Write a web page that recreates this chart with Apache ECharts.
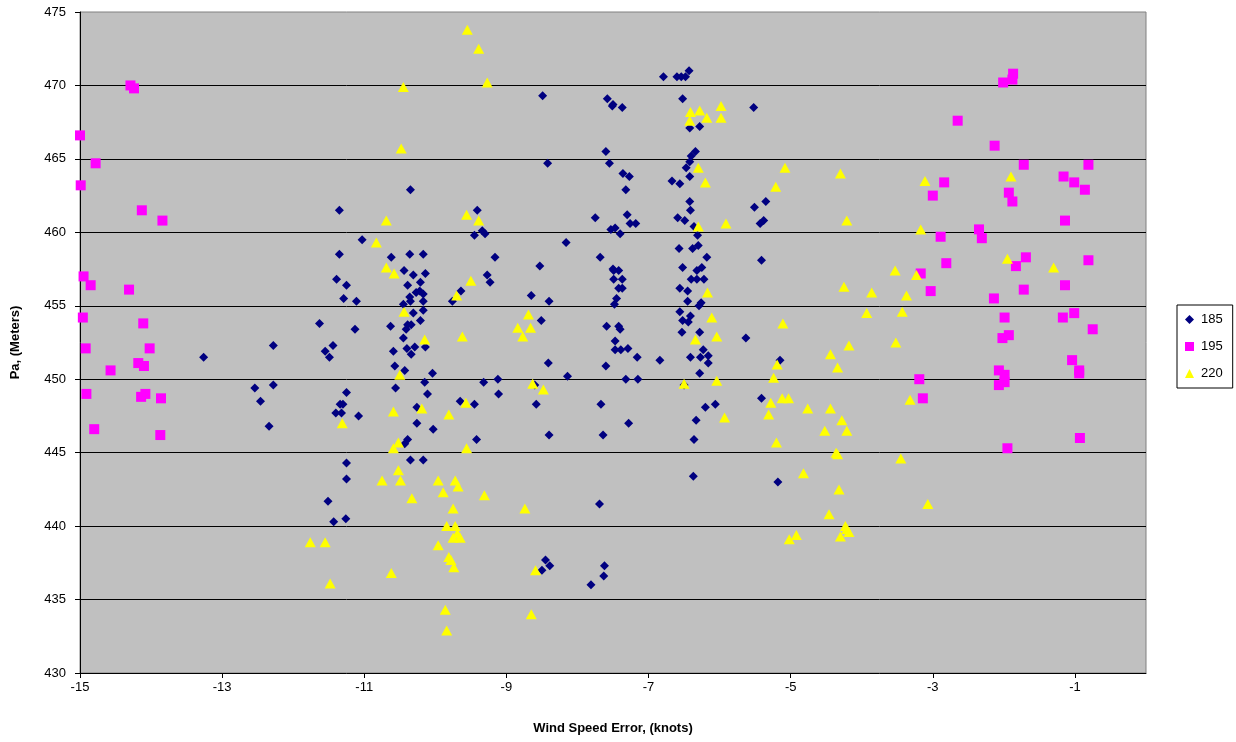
<!DOCTYPE html>
<html>
<head>
<meta charset="utf-8">
<script src="https://cdn.jsdelivr.net/npm/echarts@6/dist/echarts.min.js"></script>
<style>
  html, body { margin: 0; padding: 0; background: #ffffff; }
  #chart { width: 1236px; height: 742px; }
</style>
</head>
<body>
<div id="chart"></div>
<script>
// Series names (legend labels)
const seriesNames = ['185', '195', '220'];

// Axis ranges and tick steps
const xRange = [-15, 0];
const xStep = 2;
const yRange = [430, 475];
const yStep = 5;

// [wind speed error (knots), Pa (meters)]
const pts185 = [
  [-11.35,461.5],[-8.49,469.3],[-7.58,469.1],[-7.51,468.6],[-7.60,465.5],[-8.42,464.7],[-7.55,464.7],
  [-10.35,462.9],[-9.41,461.5],[-7.75,461.0],[-9.34,460.1],[-7.53,460.2],[-9.45,459.8],[-9.30,459.9],
  [-6.79,470.6],[-6.60,470.6],[-6.54,470.6],[-6.48,470.6],[-6.43,471.0],[-6.52,469.1],[-7.50,468.7],
  [-7.37,468.5],[-5.52,468.5],[-6.42,467.1],[-6.28,467.2],[-6.34,465.5],[-6.40,465.2],[-6.42,464.8],
  [-6.47,464.4],[-7.36,464.0],[-7.27,463.8],[-7.32,462.9],[-6.67,463.5],[-6.56,463.3],[-6.42,463.8],
  [-6.42,462.1],[-6.41,461.5],[-7.30,461.2],[-7.26,460.6],[-7.18,460.6],[-6.59,461.0],[-6.49,460.8],
  [-5.51,461.7],[-5.35,462.1],[-5.43,460.6],[-5.38,460.8],[-7.47,460.3],[-6.36,460.4],
  [-7.40,459.9],[-6.31,459.8],[-6.57,458.9],[-6.38,458.9],[-6.30,459.1],[-6.18,458.3],[-5.41,458.1],
  [-6.52,457.6],[-6.25,457.6],[-6.32,457.4],[-7.49,457.4],[-7.42,457.4],[-7.49,456.8],[-7.37,456.8],
  [-6.40,456.8],[-6.22,456.8],[-6.32,456.8],[-6.56,456.2],[-6.45,456.0],[-7.42,456.2],[-7.37,456.2],
  [-7.45,455.5],[-6.45,455.3],[-6.26,455.2],[-6.29,455.0],[-7.48,455.1],[-6.56,454.6],[-6.41,454.3],
  [-6.52,454.0],[-6.44,453.9],[-7.42,453.6],[-7.40,453.4],[-6.53,453.2],[-6.28,453.2],[-5.63,452.8],
  [-7.47,452.6],[-7.47,452.0],[-7.39,452.0],[-7.29,452.1],[-6.23,452.0],[-6.27,451.5],[-6.16,451.6],
  [-6.41,451.5],[-7.16,451.5],[-6.84,451.3],[-6.16,451.1],[-5.15,451.3],[-6.28,450.4],[-7.32,450.0],
  [-7.15,450.0],[-6.50,449.6],[-5.41,448.7],[-6.20,448.1],[-6.06,448.3],[-7.28,447.0],[-6.33,447.2],
  [-6.36,445.9],[-6.37,443.4],[-5.18,443.0],
  [-11.03,459.5],[-8.16,459.3],[-10.62,458.3],[-10.36,458.5],[-10.17,458.5],[-9.16,458.3],[-7.68,458.3],
  [-7.50,457.5],[-8.53,457.7],[-10.44,457.4],[-10.31,457.1],[-10.14,457.2],[-9.27,457.1],[-9.23,456.6],
  [-10.39,456.4],[-10.21,456.6],[-10.22,456.0],[-10.27,455.9],[-10.17,455.8],[-9.64,456.0],[-10.36,455.6],
  [-10.35,455.3],[-10.17,455.3],[-11.11,455.3],[-9.76,455.3],[-8.65,455.7],[-8.40,455.3],[-10.45,455.1],
  [-10.31,454.5],[-10.17,454.7],[-10.21,454.0],[-11.13,453.4],[-10.63,453.6],[-10.39,453.7],[-10.34,453.7],
  [-10.41,453.4],[-8.51,454.0],[-7.59,453.6],[-10.45,452.8],[-10.29,452.2],[-10.40,452.1],[-10.14,452.2],
  [-10.34,451.7],[-10.59,451.9],[-10.57,450.9],[-10.43,450.6],[-10.04,450.4],[-8.41,451.1],[-8.14,450.2],
  [-7.60,450.9],[-10.56,449.4],[-10.15,449.8],[-9.32,449.8],[-9.12,450.0],[-10.11,449.0],[-9.11,449.0],
  [-8.60,449.6],[-8.58,448.3],[-9.65,448.5],[-9.45,448.3],[-11.08,447.5],[-10.26,448.1],[-7.67,448.3],
  [-10.26,447.0],[-10.03,446.6],[-10.39,445.9],[-10.43,445.6],[-9.42,445.9],[-8.40,446.2],[-7.64,446.2],
  [-11.35,458.5],[-11.39,456.8],[-11.25,456.4],[-11.29,455.5],[-11.63,453.8],[-12.28,452.3],[-13.26,451.5],
  [-11.44,452.3],[-11.55,451.9],[-11.49,451.5],[-12.54,449.4],[-12.28,449.6],[-12.46,448.5],[-12.34,446.8],
  [-11.25,449.1],[-11.34,448.3],[-11.30,448.3],[-11.40,447.7],[-11.32,447.7],
  [-11.25,444.3],[-11.25,443.2],[-11.51,441.7],[-11.43,440.3],[-11.26,440.5],
  [-10.35,444.5],[-10.17,444.5],[-7.69,441.5],[-8.45,437.7],[-8.50,437.0],[-8.39,437.3],[-7.62,437.3],
  [-7.63,436.6],[-7.81,436.0]
];

const pts195 = [
  [-14.29,470.0],[-14.24,469.8],[-15.0,466.6],[-14.78,464.7],[-14.99,463.2],[-14.13,461.5],[-13.84,460.8],
  [-14.95,457.0],[-14.85,456.4],[-14.31,456.1],[-14.96,454.2],[-14.11,453.8],[-14.92,452.1],[-14.02,452.1],
  [-14.57,450.6],[-14.18,451.1],[-14.10,450.9],[-14.91,449.0],[-14.14,448.8],[-14.08,449.0],[-13.86,448.7],
  [-14.80,446.6],[-13.87,446.2],
  [-1.87,470.8],[-2.01,470.2],[-1.88,470.4],[-2.65,467.6],[-2.13,465.9],[-1.72,464.6],[-0.81,464.6],
  [-2.84,463.4],[-3.00,462.5],[-1.93,462.7],[-1.88,462.1],[-1.16,463.8],[-1.01,463.4],[-0.86,462.9],
  [-1.14,460.8],[-2.89,459.7],[-2.35,460.2],[-2.31,459.6],[-1.69,458.3],[-1.83,457.7],[-0.81,458.1],
  [-2.81,457.9],[-3.17,457.2],[-3.03,456.0],[-1.72,456.1],[-1.14,456.4],[-2.14,455.5],[-1.99,454.2],
  [-1.17,454.2],[-1.01,454.5],[-0.75,453.4],[-2.02,452.8],[-1.93,453.0],[-1.04,451.3],[-0.94,450.6],
  [-0.94,450.4],[-2.07,450.6],[-1.99,450.3],[-1.99,449.8],[-2.07,449.6],[-3.19,450.0],[-3.14,448.7],
  [-0.93,446.0],[-1.95,445.3]
];

const pts220 = [
  [-9.55,473.8],[-9.39,472.5],[-9.27,470.2],[-10.45,469.9],[-10.48,465.7],[-10.69,460.8],[-9.56,461.2],[-9.39,460.8],
  [-6.41,468.2],[-6.28,468.3],[-6.18,467.8],[-6.42,467.6],[-5.98,468.6],[-5.98,467.8],[-6.30,464.4],[-6.20,463.4],
  [-5.08,464.4],[-5.21,463.1],[-4.30,464.0],[-5.91,460.6],[-4.21,460.8],[-6.30,460.4],
  [-3.11,463.5],[-1.90,463.8],[-3.17,460.2],
  [-1.95,458.2],[-1.30,457.6],[-3.53,457.4],[-3.23,457.1],[-3.37,455.7],[-3.43,454.6],[-3.52,452.5],[-3.32,448.6],
  [-3.45,444.6],[-3.07,441.5],
  [-6.17,455.9],[-6.11,454.2],[-6.04,452.9],[-6.34,452.7],[-6.04,449.9],[-6.50,449.7],[-5.93,447.4],[-4.25,456.3],
  [-3.86,455.9],[-3.93,454.5],[-5.11,453.8],[-4.18,452.3],[-4.44,451.7],[-4.34,450.8],[-5.19,451.0],[-5.24,450.1],
  [-5.28,448.4],[-5.12,448.7],[-5.03,448.7],[-4.76,448.0],[-4.44,448.0],[-5.31,447.6],[-4.28,447.2],[-4.52,446.5],
  [-4.21,446.5],[-5.20,445.7],[-4.36,445.0],[-4.34,444.9],
  [-4.82,443.6],[-4.32,442.5],[-4.46,440.8],[-4.23,440.0],[-4.18,439.6],[-4.30,439.3],[-4.21,439.8],[-5.02,439.1],
  [-4.92,439.4],
  [-11.31,447.0],[-11.76,438.9],[-11.55,438.9],[-11.48,436.1],
  [-10.83,459.3],[-10.69,457.6],[-10.58,457.2],[-9.50,456.7],[-9.70,455.7],[-10.44,454.6],[-10.15,452.7],[-9.62,452.9],
  [-8.69,454.4],[-8.84,453.5],[-8.66,453.5],[-8.77,452.9],[-10.50,450.3],[-8.63,449.7],[-8.48,449.3],[-9.57,448.4],
  [-10.19,448.0],[-10.59,447.8],[-9.81,447.6],[-10.52,445.7],[-10.59,445.3],[-9.56,445.3],
  [-10.52,443.8],[-10.75,443.1],[-10.49,443.1],[-9.96,443.1],[-9.72,443.1],[-9.68,442.7],[-9.89,442.3],[-9.31,442.1],
  [-10.33,441.9],[-9.75,441.2],[-8.74,441.2],[-9.84,440.0],[-9.72,440.0],[-9.69,439.5],[-9.75,439.2],[-9.65,439.2],
  [-9.96,438.7],[-9.81,437.9],[-9.78,437.7],[-9.74,437.2],[-10.62,436.8],[-8.59,437.0],[-9.86,434.3],[-9.84,432.9],
  [-8.65,434.0]
];

const FONT = '"Liberation Sans", Arial, sans-serif';

const chart = echarts.init(document.getElementById('chart'), null, { renderer: 'canvas' });

chart.setOption({
  animation: false,
  backgroundColor: '#ffffff',
  grid: {
    left: 80, right: 90, top: 12, bottom: 69,
    show: true,
    backgroundColor: '#c0c0c0',
    borderColor: '#808080',
    borderWidth: 1
  },
  legend: {
    orient: 'vertical',
    left: 1177,
    top: 305,
    padding: [8, 10, 8, 8],
    itemGap: 14,
    itemWidth: 9,
    itemHeight: 9,
    backgroundColor: '#ffffff',
    borderColor: '#000000',
    borderWidth: 1,
    textStyle: { fontFamily: FONT, fontSize: 13, color: '#000000', padding: [0, 0, 0, 2] },
    data: [
      { name: seriesNames[0], icon: 'diamond' },
      { name: seriesNames[1], icon: 'rect' },
      { name: seriesNames[2], icon: 'triangle' }
    ]
  },
  xAxis: {
    type: 'value',
    min: xRange[0],
    max: xRange[1],
    interval: xStep,
    name: 'Wind Speed Error, (knots)',
    nameLocation: 'middle',
    nameGap: 49,
    nameTextStyle: { fontFamily: FONT, fontSize: 13, fontWeight: 'bold', color: '#000000' },
    axisLine: { show: true, onZero: false, lineStyle: { color: '#000000', width: 1 } },
    axisTick: { show: true, inside: false, length: 5, lineStyle: { color: '#000000' } },
    axisLabel: {
      fontFamily: FONT, fontSize: 13, color: '#000000', margin: 8,
      showMaxLabel: false,
      formatter: v => (Math.abs(v % 2) === 1 ? String(v) : '')
    },
    splitLine: { show: false }
  },
  yAxis: {
    type: 'value',
    min: yRange[0],
    max: yRange[1],
    interval: yStep,
    name: 'Pa, (Meters)',
    nameLocation: 'middle',
    nameGap: 58,
    nameRotate: 90,
    nameTextStyle: { fontFamily: FONT, fontSize: 13, fontWeight: 'bold', color: '#000000' },
    axisLine: { show: true, onZero: false, lineStyle: { color: '#000000', width: 1 } },
    axisTick: { show: true, inside: false, length: 5, lineStyle: { color: '#000000' } },
    axisLabel: { fontFamily: FONT, fontSize: 13, color: '#000000', margin: 14 },
    splitLine: { show: true, showMinLine: false, showMaxLine: false, lineStyle: { color: '#000000', width: 1 } }
  },
  series: [
    {
      name: seriesNames[0], type: 'scatter', symbol: 'diamond', symbolSize: 9,
      itemStyle: { color: '#000080', opacity: 1 }, data: pts185, z: 2
    },
    {
      name: seriesNames[1], type: 'scatter', symbol: 'rect', symbolSize: 10,
      itemStyle: { color: '#ff00ff', opacity: 1 }, data: pts195, z: 3
    },
    {
      name: seriesNames[2], type: 'scatter', symbol: 'triangle', symbolSize: [11, 10],
      itemStyle: { color: '#ffff00', opacity: 1 }, data: pts220, z: 4
    }
  ]
});
</script>
</body>
</html>
